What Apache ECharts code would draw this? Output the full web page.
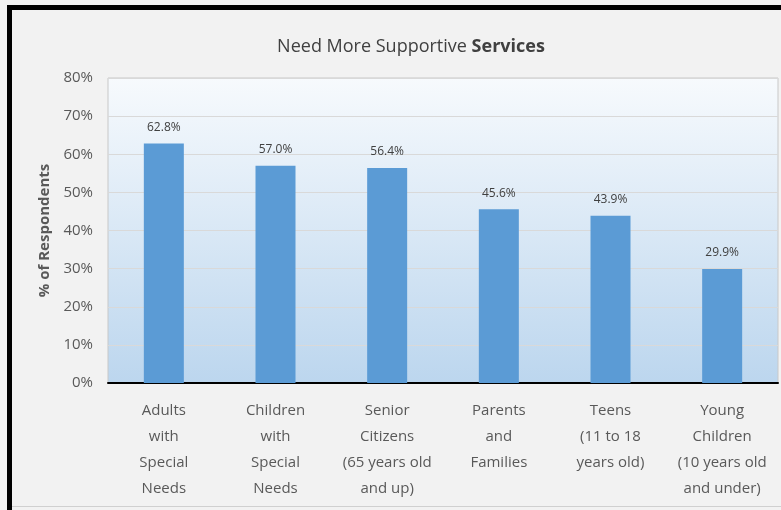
<!DOCTYPE html>
<html>
<head>
<meta charset="utf-8">
<script src="https://cdn.jsdelivr.net/npm/echarts@6/dist/echarts.min.js"></script>
<style>
html,body{margin:0;padding:0;background:#f2f2f2;}
#c{width:781px;height:510px;}
</style>
</head>
<body>
<div id="c"></div>
<script>
const categories = [
  "Adults\nwith\nSpecial\nNeeds",
  "Children\nwith\nSpecial\nNeeds",
  "Senior\nCitizens\n(65 years old\nand up)",
  "Parents\nand\nFamilies",
  "Teens\n(11 to 18\nyears old)",
  "Young\nChildren\n(10 years old\nand under)"
];
const values = [62.8, 57.0, 56.4, 45.6, 43.9, 29.9];
const yTicks = [0, 10, 20, 30, 40, 50, 60, 70, 80];

const chart = echarts.init(document.getElementById('c'));
const font = '"Open Sans", "Noto Sans", sans-serif';
chart.setOption({
  backgroundColor: '#f2f2f2',
  animation: false,
  title: {
    text: '{n|Need More Supportive }{b|Services}',
    left: 406,
    textAlign: 'center',
    top: 33,
    textStyle: {
      fontWeight: 'normal',
      rich: {
        n: {fontSize: 18, color: '#404040', fontWeight: 'normal', fontFamily: font},
        b: {fontSize: 18, color: '#404040', fontWeight: 'bold', fontFamily: font}
      }
    }
  },
  graphic: [
    {type: 'rect', shape: {x: 7, y: 5, width: 774, height: 5}, style: {fill: '#000'}},
    {type: 'rect', shape: {x: 7, y: 5, width: 5, height: 505}, style: {fill: '#000'}},
    {type: 'rect', shape: {x: 12, y: 506, width: 769, height: 1}, style: {fill: '#d0d0d0'}}
  ],
  grid: {
    left: 108, right: 3, top: 78, bottom: 127,
    show: true,
    borderColor: '#c8c8c8',
    borderWidth: 1,
    backgroundColor: {
      type: 'linear', x: 0, y: 0, x2: 0, y2: 1,
      colorStops: [{offset: 0, color: '#f7fafd'}, {offset: 1, color: '#bcd6ee'}]
    }
  },
  xAxis: {
    type: 'category',
    data: categories,
    axisLine: {lineStyle: {color: '#000', width: 2}},
    axisTick: {show: false},
    axisLabel: {
      interval: 0,
      color: '#595959',
      fontSize: 15,
      lineHeight: 26,
      margin: 15,
      fontFamily: font
    }
  },
  yAxis: {
    type: 'value',
    min: 0, max: 80, interval: 10,
    name: '% of Respondents',
    nameLocation: 'middle',
    nameGap: 56,
    nameTextStyle: {color: '#595959', fontSize: 15, fontWeight: 'bold', fontFamily: font},
    axisLine: {show: false},
    axisTick: {show: false},
    axisLabel: {
      color: '#595959', fontSize: 15, margin: 15, fontFamily: font,
      formatter: v => yTicks.includes(v) ? v + '%' : ''
    },
    splitLine: {lineStyle: {color: '#d9d9d9', width: 1}}
  },
  series: [{
    type: 'bar',
    data: values,
    barWidth: 40,
    itemStyle: {color: '#5b9bd5'},
    label: {
      show: true,
      position: 'top',
      distance: 10,
      color: '#404040',
      fontSize: 12,
      fontFamily: font,
      formatter: p => p.value.toFixed(1) + '%'
    }
  }]
});
</script>
</body>
</html>
